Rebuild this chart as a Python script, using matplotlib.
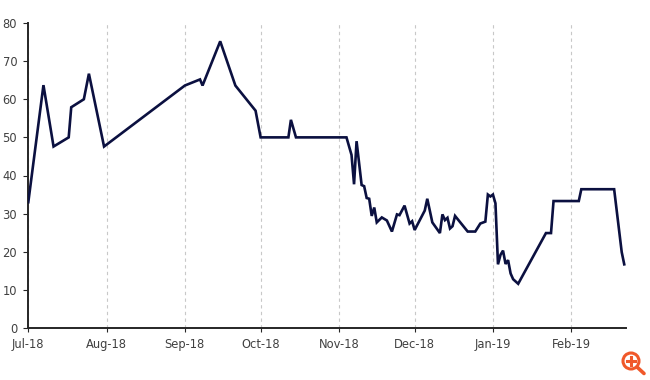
import matplotlib
matplotlib.use('Agg')
import matplotlib.pyplot as plt
from matplotlib.lines import Line2D
from matplotlib.patches import Circle
import pandas as pd

dates = ['2018-07-01', '2018-07-07', '2018-07-11', '2018-07-17', '2018-07-18', '2018-07-23',
         '2018-07-25', '2018-07-31', '2018-09-01', '2018-09-07', '2018-09-08', '2018-09-15',
         '2018-09-21', '2018-09-29', '2018-10-01', '2018-10-12', '2018-10-13', '2018-10-15',
         '2018-11-04', '2018-11-06', '2018-11-07', '2018-11-08', '2018-11-10', '2018-11-11',
         '2018-11-12', '2018-11-13', '2018-11-14', '2018-11-15', '2018-11-16', '2018-11-18',
         '2018-11-20', '2018-11-22', '2018-11-24', '2018-11-25', '2018-11-27', '2018-11-29',
         '2018-11-30', '2018-12-01', '2018-12-05', '2018-12-06', '2018-12-08', '2018-12-11',
         '2018-12-12', '2018-12-13', '2018-12-14', '2018-12-15', '2018-12-16', '2018-12-17',
         '2018-12-22', '2018-12-25', '2018-12-27', '2018-12-29', '2018-12-30', '2018-12-31',
         '2019-01-01', '2019-01-02', '2019-01-03', '2019-01-04', '2019-01-05', '2019-01-06',
         '2019-01-07', '2019-01-08', '2019-01-09', '2019-01-11', '2019-01-22', '2019-01-24',
         '2019-01-25', '2019-02-04', '2019-02-05', '2019-02-18', '2019-02-21', '2019-02-22']
values = [33.0, 63.7, 47.6, 50.0, 57.9, 60.0,
          66.7, 47.6, 63.6, 65.2, 63.6, 75.2,
          63.6, 57.0, 50.0, 50.0, 54.6, 50.0,
          50.0, 45.4, 37.7, 49.0, 37.5, 37.2,
          34.1, 33.9, 29.4, 31.6, 27.7, 29.0,
          28.2, 25.3, 29.8, 29.6, 32.1, 27.4,
          28.0, 25.7, 30.8, 33.9, 27.7, 24.9,
          29.8, 28.3, 28.9, 26.1, 26.7, 29.4,
          25.3, 25.3, 27.4, 27.9, 35.0, 34.5,
          35.0, 32.7, 16.7, 19.2, 20.3, 16.8,
          17.8, 14.3, 12.8, 11.6, 24.9, 24.9,
          33.3, 33.3, 36.4, 36.4, 19.9, 16.7]
month_ticks = ['2018-07-01', '2018-08-01', '2018-09-01', '2018-10-01',
               '2018-11-01', '2018-12-01', '2019-01-01', '2019-02-01']
month_labels = ['Jul-18', 'Aug-18', 'Sep-18', 'Oct-18', 'Nov-18', 'Dec-18', 'Jan-19', 'Feb-19']
y_ticks = [0, 10, 20, 30, 40, 50, 60, 70, 80]

W, H = 650, 380
text_col = '#404040'
axis_col = '#262626'
line_col = '#0b1040'
icon_col = '#f0582a'

fig = plt.figure(figsize=(W / 100, H / 100), dpi=100)
ax = fig.add_axes([28.3 / W, (H - 328) / H, (625.5 - 28.3) / W, (328 - 23) / H])

ax.plot(pd.to_datetime(dates), values, color=line_col, lw=1.9, solid_joinstyle='miter', zorder=3)

ax.set_xlim(pd.Timestamp('2018-07-01'), pd.Timestamp('2019-02-22 12:00'))
ax.set_ylim(0, 80)
ax.set_xticks(pd.to_datetime(month_ticks))
ax.set_xticklabels(month_labels)
ax.set_yticks(y_ticks)

ax.grid(axis='x', color='#c8c8c8', lw=0.8, ls=(0, (3, 3)))
ax.set_axisbelow(True)

for side in ['top', 'right']:
    ax.spines[side].set_visible(False)
for side in ['left', 'bottom']:
    ax.spines[side].set_color(axis_col)
    ax.spines[side].set_linewidth(1.4)
ax.tick_params(axis='x', length=3, width=0.8, color=axis_col, labelcolor=text_col, labelsize=8.3, pad=4.5)
ax.tick_params(axis='y', length=3.5, width=0.8, color=axis_col, labelcolor=text_col, labelsize=8.3, pad=4.5)

# zoom icon in the corner
icon_ax = fig.add_axes([0, 0, 1, 1], facecolor='none')
icon_ax.set_xlim(0, W)
icon_ax.set_ylim(H, 0)
icon_ax.axis('off')
icon_ax.add_patch(Circle((631, 361), 8, fill=False, ec=icon_col, lw=2.2))
icon_ax.add_line(Line2D([637, 644], [367, 373.5], color=icon_col, lw=2.6, solid_capstyle='round'))
icon_ax.add_line(Line2D([627, 635], [361, 361], color=icon_col, lw=2.2))
icon_ax.add_line(Line2D([631, 631], [357, 365], color=icon_col, lw=2.2))

fig.savefig('out.png', dpi=100)
